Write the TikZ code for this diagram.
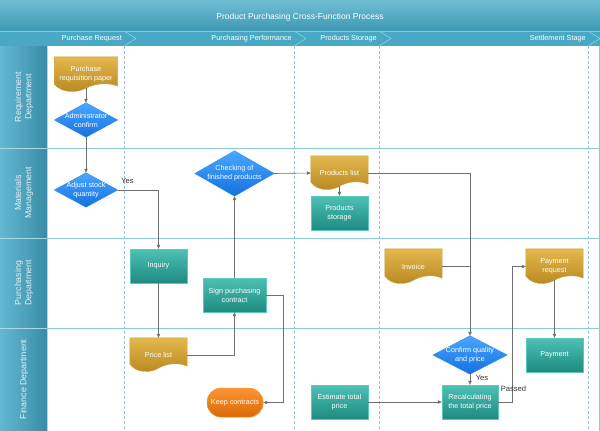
\documentclass[tikz,border=0pt]{standalone}
\usepackage{fontspec}
\setmainfont{Liberation Sans}
\usetikzlibrary{arrows.meta,shadows,calc,backgrounds}
\pgfdeclarelayer{grid}
\pgfdeclarelayer{shapes}
\pgfsetlayers{grid,shapes,main}
\definecolor{titleTop}{HTML}{6FBFD3}
\definecolor{titleBot}{HTML}{3E98B3}
\definecolor{phaseBar}{HTML}{49A9C5}
\definecolor{chevCol}{HTML}{86D0E2}
\definecolor{laneL}{HTML}{62B9D2}
\definecolor{laneR}{HTML}{3A8BA5}
\definecolor{laneSep}{HTML}{A9D9E7}
\definecolor{laneLine}{HTML}{8DC8DA}
\definecolor{dashCol}{HTML}{9CC2DD}
\definecolor{laneText}{HTML}{E2F2F7}
\definecolor{boxTop}{HTML}{4EC0B4}
\definecolor{boxBot}{HTML}{1E8B7F}
\definecolor{boxEdge}{HTML}{5CC7BB}
\definecolor{docTop}{HTML}{E3B84E}
\definecolor{docBot}{HTML}{B88820}
\definecolor{docEdge}{HTML}{D2A63C}
\definecolor{diaTop}{HTML}{48A8FF}
\definecolor{diaBot}{HTML}{1470E0}
\definecolor{diaEdge}{HTML}{3A90EC}
\definecolor{orTop}{HTML}{FB9535}
\definecolor{orBot}{HTML}{D96A04}
\definecolor{lineGray}{HTML}{707070}
\definecolor{labGray}{HTML}{333333}
\newcommand\nodefont{\fontsize{7.2}{9}\selectfont}
\newcommand\docpath[1]{(#1.north west) -- ($(#1.south west)+(0,-8)$)
  .. controls ($(#1.south west)!0.12!(#1.south east)+(0,1)$) and ($(#1.south west)!0.35!(#1.south east)+(0,1)$) .. ($(#1.south)+(0,-4)$)
  .. controls ($(#1.south west)!0.65!(#1.south east)+(0,-9)$) and ($(#1.south west)!0.85!(#1.south east)+(0,-10)$) .. ($(#1.south east)+(0,-6)$)
  -- (#1.north east) -- cycle}
\newcommand\mkdoc[1]{%
  \path[fill=black,opacity=.16,shift={(0.9,0.9)}] \docpath{#1};
  \path[top color=docTop,bottom color=docBot,draw=docEdge,line width=0.4pt] \docpath{#1};}
\newcommand\mkdia[1]{%
  \path[fill=black,opacity=.16,shift={(0.9,0.9)}] (#1.north) -- (#1.east) -- (#1.south) -- (#1.west) -- cycle;
  \path[top color=diaTop,bottom color=diaBot,draw=diaEdge,line width=0.4pt] (#1.north) -- (#1.east) -- (#1.south) -- (#1.west) -- cycle;}
\begin{document}
\begin{tikzpicture}[x=1pt,y=-1pt,
  box/.style={rectangle, minimum width=57, minimum height=34, inner sep=1pt, align=center, text=white, font=\nodefont, top color=boxTop, bottom color=boxBot, draw=boxEdge, line width=0.4pt, drop shadow={shadow xshift=0.9pt, shadow yshift=-0.9pt, opacity=.2}},
  docnode/.style={rectangle, minimum width=57, minimum height=34, inner sep=1pt, align=center, text=white, font=\nodefont},
  dianode/.style={rectangle, inner sep=0pt, align=center, text=white, font=\nodefont},
  term/.style={rectangle, rounded corners=14pt, minimum width=56, minimum height=29, inner sep=1pt, align=center, text=white, font=\nodefont, top color=orTop, bottom color=orBot, draw=orTop, line width=0.4pt, drop shadow={shadow xshift=0.9pt, shadow yshift=-0.9pt, opacity=.2}},
  conn/.style={draw=lineGray, line width=0.6pt, -{Triangle[length=4pt,width=3.4pt]}},
  plain/.style={draw=lineGray, line width=0.6pt},
  lablab/.style={text=labGray, font=\fontsize{7.6}{9}\selectfont, inner sep=0pt},
  lanelabel/.style={text=laneText, font=\fontsize{8.8}{10.4}\selectfont, align=center, inner sep=0pt},
  phaselabel/.style={text=white, font=\fontsize{7.3}{9}\selectfont, inner sep=0pt, anchor=east},
  chev/.style={draw=chevCol, line width=0.6pt},
  dashdiv/.style={draw=dashCol, line width=0.8pt, dash pattern=on 3pt off 2pt},
  laneline/.style={draw=laneLine, line width=0.8pt}
]
\useasboundingbox (0,0) rectangle (600,431);
\begin{pgfonlayer}{grid}
  \fill[white] (0,0) rectangle (600,431);
  % title band and phase band
  \shade[top color=titleTop, bottom color=titleBot] (0,0) rectangle (600,31);
  \fill[phaseBar] (0,31) rectangle (600,46);
  \draw[chevCol, line width=0.5pt] (0,31) -- (600,31);
  % lane headers
  \shade[left color=laneL, right color=laneR] (0,46) rectangle (47,148);
  \shade[left color=laneL, right color=laneR] (0,148) rectangle (47,238);
  \shade[left color=laneL, right color=laneR] (0,238) rectangle (47,328);
  \shade[left color=laneL, right color=laneR] (0,328) rectangle (47,431);
  \draw[laneSep, line width=0.8pt] (0,148) -- (47,148) (0,238) -- (47,238) (0,328) -- (47,328);
  \draw[laneSep, line width=0.6pt] (47,46) -- (47,431);
  % lane lines
  \draw[laneline] (47,148) -- (600,148) (47,238) -- (600,238) (47,328) -- (600,328);
  \draw[laneline] (599,46) -- (599,431);
  % phase dividers
  \draw[dashdiv] (124,46) -- (124,431);
  \draw[dashdiv] (294,46) -- (294,431);
  \draw[dashdiv] (379,46) -- (379,431);
  \draw[dashdiv] (588,46) -- (588,431);
  % chevrons
  \draw[chev] (124,31) -- (136,38.5) -- (124,46);
  \draw[chev] (294,31) -- (306,38.5) -- (294,46);
  \draw[chev] (379,31) -- (391,38.5) -- (379,46);
  \draw[chev] (588,31) -- (600,38.5) -- (588,46);
\end{pgfonlayer}

% header texts
\node[text=white, font=\fontsize{8.5}{10}\selectfont, inner sep=0pt] (title) at (300,17.5) {Product Purchasing Cross-Function Process};
\node[phaselabel] (ph1) at (122,38.5) {Purchase Request};
\node[phaselabel] (ph2) at (292,38.5) {Purchasing Performance};
\node[phaselabel] (ph3) at (377,38.5) {Products Storage};
\node[phaselabel] (ph4) at (586,38.5) {Settlement Stage};
\node[lanelabel, rotate=90] (lane1) at (24,97) {Requirement\\Department};
\node[lanelabel, rotate=90] (lane2) at (24,193) {Materials\\Management};
\node[lanelabel, rotate=90] (lane3) at (24,283) {Purchasing\\Department};
\node[lanelabel, rotate=90] (lane4) at (24,379.5) {Finance Department};

% nodes
\node[docnode, minimum width=63, minimum height=35] (req) at (86,74.5) {Purchase\\requisition paper};
\node[dianode, minimum width=63, minimum height=34] (adm) at (86,120) {Administrator\\confirm};
\node[dianode, minimum width=63, minimum height=34] (adj) at (86,190) {Adjust stock\\quantity};
\node[box] (inq) at (158.5,266) {Inquiry};
\node[docnode] (price) at (158.5,355) {Price list};
\node[box, minimum width=63] (sign) at (234.5,295) {Sign purchasing\\contract};
\node[term] (keep) at (235,402.5) {Keep contracts};
\node[dianode, minimum width=79, minimum height=45] (check) at (234.5,173.5) {Checking of\\finished products};
\node[docnode] (plist) at (339.5,173) {Products list};
\node[box] (pstor) at (339.5,213) {Products\\storage};
\node[docnode, minimum height=35] (inv) at (413.5,266.5) {Invoice};
\node[dianode, minimum width=74, minimum height=38] (conf) at (470,355) {Confirm quality\\and price};
\node[box, minimum width=56] (recalc) at (470,402) {Recalculating\\the total price};
\node[box] (est) at (339.5,402) {Estimate total\\price};
\node[docnode, minimum height=35] (payreq) at (554.5,266.5) {Payment\\request};
\node[box] (pay) at (554.5,355) {Payment};

\begin{pgfonlayer}{shapes}
  \mkdoc{req}\mkdoc{price}\mkdoc{plist}\mkdoc{inv}\mkdoc{payreq}
  \mkdia{adm}\mkdia{adj}\mkdia{check}\mkdia{conf}
\end{pgfonlayer}

% connectors
\draw[conn] ($(req.south)+(0,-4)$) -- (adm.north);
\draw[conn] (adm.south) -- (adj.north);
\draw[conn] (adj.east) -| (inq.north);
\node[lablab] (yes1) at (127.5,181) {Yes};
\draw[conn] (inq.south) -- (price.north);
\draw[conn] (price.east) -| (sign.south);
\draw[conn] (sign.north) -- (check.south);
\draw[conn] (sign.east) -- ++(17,0) |- (keep.east);
\draw[conn] (check.east) -- (plist.west);
\draw[conn] ($(plist.south)+(0,-4)$) -- (pstor.north);
\draw[conn] (plist.east) -| (conf.north);
\draw[plain] (inv.east) -- (inv.east -| conf.north);
\draw[conn] (conf.south) -- (recalc.north);
\node[lablab] (yes2) at (482,378) {Yes};
\draw[conn] (est.east) -- (recalc.west);
\draw[conn] (recalc.east) -- ++(14,0) |- (payreq.west);
\node[lablab] (passed) at (513.5,389) {Passed};
\draw[conn] ($(payreq.south)+(0,-4)$) -- (pay.north);
\end{tikzpicture}
\end{document}
